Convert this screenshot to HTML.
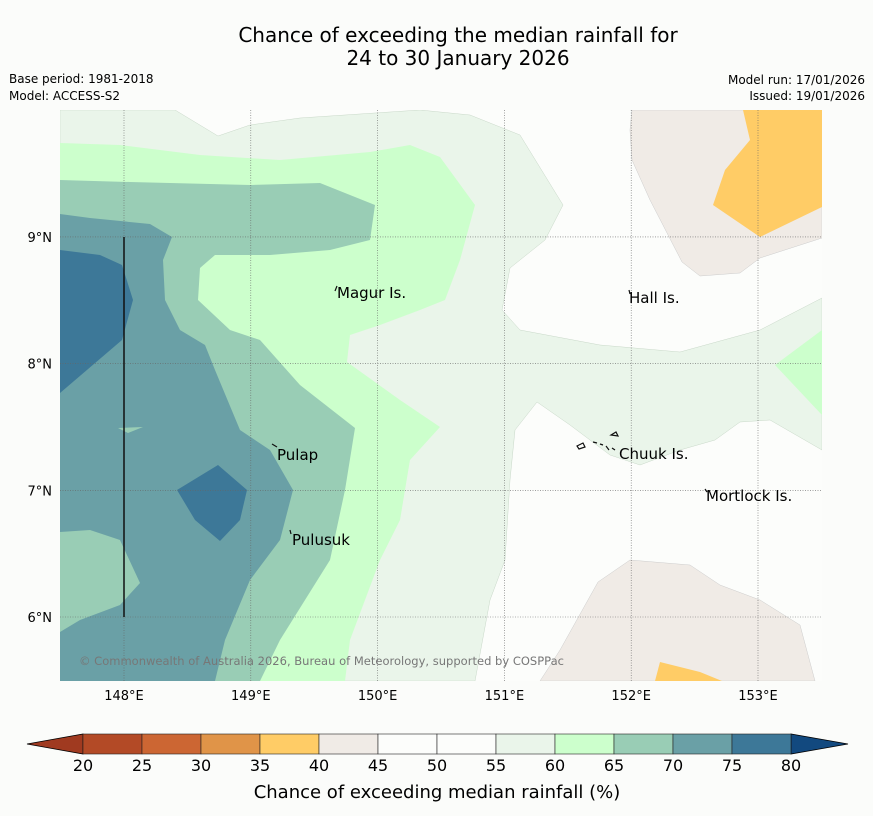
<!DOCTYPE html>
<html><head><meta charset="utf-8"><style>
body{margin:0;background:#fbfcfa;font-family:"Liberation Sans","DejaVu Sans",sans-serif}
svg{display:block}
text{font-family:"DejaVu Sans","Liberation Sans",sans-serif}
</style></head><body>
<svg width="873" height="816" viewBox="0 0 873 816">
<rect width="873" height="816" fill="#fbfcfa"/>
<text x="458" y="42" font-size="20" text-anchor="middle">Chance of exceeding the median rainfall for</text>
<text x="458" y="65" font-size="20" text-anchor="middle">24 to 30 January 2026</text>
<text x="9" y="83" font-size="12">Base period: 1981-2018</text>
<text x="9" y="100" font-size="12">Model: ACCESS-S2</text>
<text x="865" y="84" font-size="12" text-anchor="end">Model run: 17/01/2026</text>
<text x="865" y="100" font-size="12" text-anchor="end">Issued: 19/01/2026</text>
<defs><clipPath id="mc"><rect x="60" y="110" width="762" height="571"/></clipPath></defs>
<g clip-path="url(#mc)">
<rect x="60" y="110" width="762" height="571" fill="#fcfdfb"/>
<polygon fill="#eaf5ea" stroke="#c8d8c8" stroke-width="0.5" points="60,110 175,110 218,136 250,125 300,118 420,110 470,115 520,135 563,205 545,240 510,268 502,310 520,330 600,345 680,352 760,330 822,298 822,450 770,420 740,422 715,440 680,450 640,465 610,455 570,425 537,402 515,430 510,480 505,560 490,600 475,681 60,681"/>
<polygon fill="#ccffcc" points="822,330 775,365 822,415"/>
<polygon fill="#f0ebe6" stroke="#ccc" stroke-width="0.5" points="632,110 822,110 822,238 760,258 740,273 700,276 682,262 650,200 632,160 630,130"/>
<polygon fill="#ffcc66" points="743,110 822,110 822,207 760,237 713,205 725,170 750,140"/>
<polygon fill="#f0ebe6" stroke="#ccc" stroke-width="0.5" points="540,681 560,650 598,582 630,560 690,565 720,585 760,600 800,625 815,681"/>
<polygon fill="#ffcc66" points="655,681 660,662 700,672 722,681"/>
<polygon fill="#ccffcc" points="60,143 120,145 200,155 280,160 370,152 410,145 440,157 475,205 460,260 445,300 420,310 380,325 350,335 347,362 400,400 440,427 410,460 400,520 380,560 350,640 345,681 60,681"/>
<polygon fill="#99cdb5" points="60,180 130,182 250,185 320,183 375,205 370,240 330,250 270,255 215,255 200,268 198,300 230,330 260,340 300,385 355,428 345,490 330,560 280,640 260,681 60,681"/>
<polygon fill="#6aa0a6" points="60,214 90,218 150,224 172,237 163,260 165,300 180,330 205,345 215,370 240,430 270,450 293,490 280,540 250,580 225,640 215,681 60,681"/>
<polygon fill="#99cdb5" points="60,532 90,530 120,540 140,583 120,605 80,620 60,632"/>
<polygon fill="#99cdb5" points="118,428 143,427 128,433"/>
<polygon fill="#3d7898" points="60,250 100,255 122,265 133,300 122,340 60,393"/>
<polygon fill="#3d7898" points="177,490 218,465 247,490 240,520 220,541 195,520"/>
<g id="grid" stroke="#666" stroke-width="0.6" stroke-dasharray="1,1.5"></g>
<line x1="124" y1="237" x2="124" y2="617" stroke="#111" stroke-width="1.5"/>
<g fill="none" stroke="#111" stroke-width="1.2">
<path d="M335,291 l2,-5"/><path d="M272,444 l5,3"/><path d="M290,530 l1,4"/>
<path d="M577,446 l6,-3 l2,4 l-6,2z"/><path d="M593,442 l4,1"/><path d="M600,444 l3,1"/><path d="M606,446 l3,4"/>
<path d="M611,435 l5,-3 l2,4z"/><path d="M612,448 l3,2"/><path d="M629,290 l1,4"/><path d="M705,489 l2,3"/>
</g>
<text x="337" y="298" font-size="15">Magur Is.</text>
<text x="629" y="303" font-size="15">Hall Is.</text>
<text x="277" y="460" font-size="15">Pulap</text>
<text x="619" y="459" font-size="15">Chuuk Is.</text>
<text x="706" y="501" font-size="15">Mortlock Is.</text>
<text x="292" y="545" font-size="15">Pulusuk</text>
<text x="79" y="665" font-size="11.5" fill="#777" textLength="485">© Commonwealth of Australia 2026, Bureau of Meteorology, supported by COSPPac</text>
</g>
<g id="axes"></g>
<g id="cbar"></g>
<text x="437" y="798" font-size="18" text-anchor="middle">Chance of exceeding median rainfall (%)</text>
</svg>
<script>
const lonTicks=[148,149,150,151,152,153];
const latTicks=[9,8,7,6];
const levels=[20,25,30,35,40,45,50,55,60,65,70,75,80];
const levelColors=["#b34a26","#cc6633","#e09448","#ffcc66","#f0ebe6","#fcfdfb","#fcfdfb","#eaf5ea","#ccffcc","#99cdb5","#6aa0a6","#3d7898"];
const ns="http://www.w3.org/2000/svg";
const xLon=l=>124+(l-148)*126.8;
const yLat=l=>617-(l-6)*126.7;
function mk(t,a,p){const e=document.createElementNS(ns,t);for(const k in a)e.setAttribute(k,a[k]);p.appendChild(e);return e;}
const grid=document.getElementById('grid'),axes=document.getElementById('axes'),cb=document.getElementById('cbar');
lonTicks.forEach(l=>{
 const g=mk('line',{x1:xLon(l),x2:xLon(l),y1:110,y2:681},grid);
 
 
 const t=mk('text',{x:xLon(l),y:700,'font-size':13,'text-anchor':'middle'},axes);t.textContent=l+'°E';
 
 
});
latTicks.forEach(l=>{
 const g=mk('line',{x1:60,x2:822,y1:yLat(l),y2:yLat(l)},grid);
 
 
 const t=mk('text',{x:52,y:yLat(l)+5,'font-size':13,'text-anchor':'end'},axes);t.textContent=l+'°N';
 
 
});
const cx0=83,cx1=791,cy=734,ch=20,n=levelColors.length,w=(cx1-cx0)/n;
const lt=mk('polygon',{points:`27,${cy+ch/2} ${cx0},${cy} ${cx0},${cy+ch}`,fill:'#a03a20',stroke:'#000','stroke-width':0.8},cb);


const rt=mk('polygon',{points:`848,${cy+ch/2} ${cx1},${cy} ${cx1},${cy+ch}`,fill:'#12497f',stroke:'#000','stroke-width':0.8},cb);


levelColors.forEach((c,i)=>{
 const r=mk('rect',{x:cx0+i*w,y:cy,width:w,height:ch,fill:c,stroke:'#222','stroke-width':0.6},cb);
 
 
});
levels.forEach((v,i)=>{
 const t=mk('text',{x:cx0+i*w,y:771,'font-size':16,'text-anchor':'middle'},cb);t.textContent=v;
 
 
});
</script>
</body></html>
